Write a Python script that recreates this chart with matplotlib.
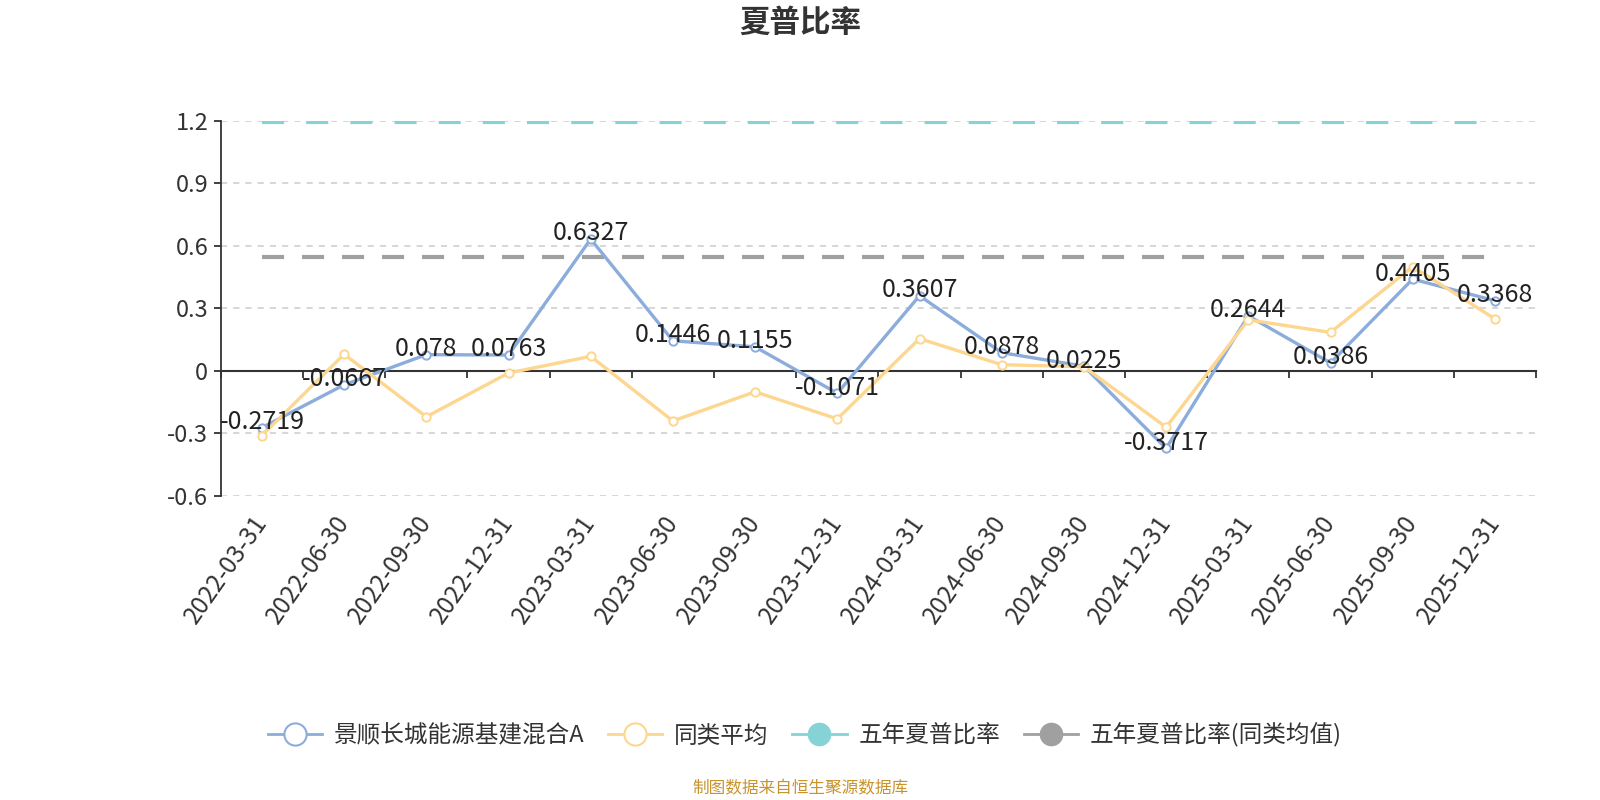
import numpy as np
import matplotlib
matplotlib.use("Agg")
import matplotlib.pyplot as plt
from matplotlib.lines import Line2D

plt.rcParams['font.family'] = ['Noto Sans CJK SC', 'DejaVu Sans']
plt.rcParams['axes.unicode_minus'] = False

dates = ["2022-03-31", "2022-06-30", "2022-09-30", "2022-12-31",
         "2023-03-31", "2023-06-30", "2023-09-30", "2023-12-31",
         "2024-03-31", "2024-06-30", "2024-09-30", "2024-12-31",
         "2025-03-31", "2025-06-30", "2025-09-30", "2025-12-31"]
fund = [-0.2719, -0.0667, 0.078, 0.0763, 0.6327, 0.1446, 0.1155, -0.1071,
        0.3607, 0.0878, 0.0225, -0.3717, 0.2644, 0.0386, 0.4405, 0.3368]
peer_avg = [-0.31, 0.08, -0.22, -0.01, 0.07, -0.24, -0.10, -0.23,
            0.155, 0.03, 0.02, -0.27, 0.245, 0.185, 0.50, 0.25]
five_year = 1.195
five_year_peer = 0.545
y_ticks = [-0.6, -0.3, 0, 0.3, 0.6, 0.9, 1.2]

names = ["景顺长城能源基建混合A", "同类平均", "五年夏普比率", "五年夏普比率(同类均值)"]
c_fund = "#8cacdb"
c_peer = "#fdd68f"
c_five = "#86d3d7"
c_five_peer = "#a0a0a0"
dark = "#333333"


def main():
    fig = plt.figure(figsize=(16, 8), dpi=100)
    ax = fig.add_axes([0.138, 0.38, 0.822, 0.469])
    x = np.arange(len(dates))

    # reference lines across the categories
    ax.plot([x[0], x[-1]], [five_year] * 2, color=c_five, lw=3,
            dashes=(5.3, 5.3), zorder=2)
    ax.plot([x[0], x[-1]], [five_year_peer] * 2, color=c_five_peer, lw=3,
            dashes=(5.3, 4.3), zorder=2)

    ax.plot(x, fund, color=c_fund, lw=2.4, marker='o', ms=6,
            mfc='white', mec=c_fund, mew=1.4, zorder=4)
    ax.plot(x, peer_avg, color=c_peer, lw=2.4, marker='o', ms=6,
            mfc='white', mec=c_peer, mew=1.4, zorder=5)

    for xi, v in zip(x, fund):
        ax.annotate("{:g}".format(v), (xi, v), xytext=(0, 4),
                    textcoords='offset points', ha='center', va='center',
                    fontsize=18, color='#222222', zorder=6)

    ax.set_xlim(-0.5, len(dates) - 0.5)
    ax.set_ylim(-0.6, 1.2)
    ax.set_yticks(y_ticks)
    ax.set_yticklabels(["{:g}".format(t) for t in y_ticks])
    ax.grid(axis='y', color='#cccccc', ls=(0, (4, 4)), lw=1.1)
    ax.set_axisbelow(True)
    # no grid line where the category axis sits
    ax.yaxis.get_gridlines()[y_ticks.index(0)].set_visible(False)

    ax.set_xticks(x)
    ax.set_xticklabels(dates, rotation=55, ha='right', va='center',
                       rotation_mode='anchor')
    ax.tick_params(axis='x', length=0, pad=16, labelsize=17.5, labelcolor=dark)
    ax.tick_params(axis='y', length=5, width=1.3, color=dark, direction='out',
                   labelsize=17, labelcolor=dark, pad=4)

    for s in ['top', 'right', 'bottom']:
        ax.spines[s].set_visible(False)
    ax.spines['left'].set_color(dark)
    ax.spines['left'].set_linewidth(1.3)

    # category axis sits on zero, tick marks between categories
    ymin, ymax = ax.get_ylim()
    sec = ax.secondary_xaxis((0 - ymin) / (ymax - ymin))
    sec.set_xticks(np.arange(len(dates) + 1) - 0.5)
    sec.set_xticklabels([])
    sec.tick_params(length=5, width=1.3, color=dark, direction='out')
    sec.spines['bottom'].set_color(dark)
    sec.spines['bottom'].set_linewidth(1.5)

    fig.text(0.5, 0.971, "夏普比率", ha='center', va='center',
             fontsize=22, fontweight='bold', color=dark)

    handles = [
        Line2D([], [], color=c_fund, lw=2, marker='o', ms=16,
               mfc='white', mec=c_fund, mew=1.5),
        Line2D([], [], color=c_peer, lw=2, marker='o', ms=16,
               mfc='white', mec=c_peer, mew=1.5),
        Line2D([], [], color=c_five, lw=2, marker='o', ms=16,
               mfc=c_five, mec=c_five),
        Line2D([], [], color=c_five_peer, lw=2, marker='o', ms=16,
               mfc=c_five_peer, mec=c_five_peer),
    ]
    fig.legend(handles, names, loc='center', bbox_to_anchor=(0.503, 0.081),
               ncol=4, frameon=False, fontsize=17, labelcolor=dark,
               handlelength=2.3, handletextpad=0.5, columnspacing=1.0)

    fig.text(0.5, 0.014, "制图数据来自恒生聚源数据库", ha='center',
             va='center', fontsize=12, color='#c8932c')

    fig.savefig("out.png", dpi=100)


if __name__ == "__main__":
    main()
